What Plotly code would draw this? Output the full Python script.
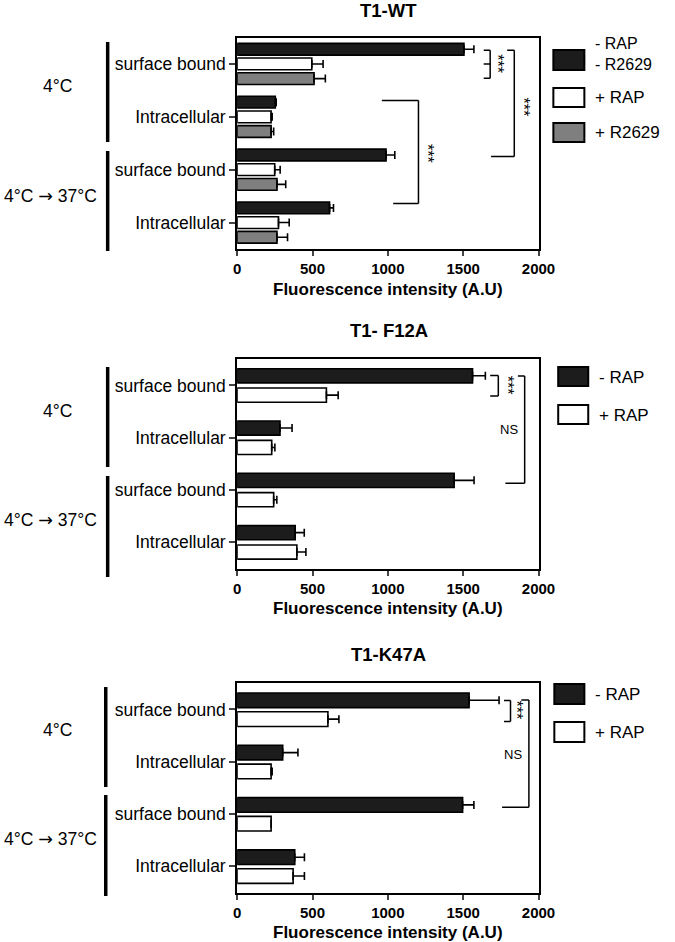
import plotly.graph_objects as go

W, H = 675, 942
FONT = "Liberation Sans, Arial, sans-serif"

# ---------------- data ----------------
group_labels = ["surface bound", "Intracellular", "surface bound", "Intracellular"]
group_pos = [0, 1, 2, 3]
x_ticks = [0, 500, 1000, 1500, 2000]

titles = ["T1-WT", "T1- F12A", "T1-K47A"]
axis_title = "Fluorescence intensity (A.U)"

# Panel 1 (T1-WT)
wt_minus_rap = [1505, 253, 988, 613]
wt_minus_rap_err = [66, 6, 58, 26]
wt_plus_rap = [495, 225, 249, 274]
wt_plus_rap_err = [75, 7, 36, 71]
wt_plus_r2629 = [510, 225, 264, 264]
wt_plus_r2629_err = [75, 17, 58, 70]

# Panel 2 (T1- F12A)
f12a_minus_rap = [1562, 284, 1440, 385]
f12a_minus_rap_err = [85, 80, 132, 60]
f12a_plus_rap = [592, 229, 242, 396]
f12a_plus_rap_err = [78, 21, 21, 60]

# Panel 3 (T1-K47A)
k47a_minus_rap = [1539, 302, 1496, 382]
k47a_minus_rap_err = [199, 101, 75, 64]
k47a_plus_rap = [602, 225, 225, 371]
k47a_plus_rap_err = [73, 7, 0, 75]

BLACK = "#1c1c1c"
GRAY = "#7f7f7f"
WHITE = "#ffffff"

# ---------------- layout geometry (pixels) ----------------
X0, X1 = 240.7, 551.7
panels = [  # top, bottom of plot area
    (37.5, 249.0),
    (359.3, 568.5),
    (683.3, 892.5),
]


def px(x):
    return x / W


def py(y):
    return 1 - y / H


fig = go.Figure()


def add_bar(vals, errs, color, axis, offset, width):
    fig.add_trace(go.Bar(
        x=vals, y=group_pos, orientation="h",
        xaxis="x" + axis, yaxis="y" + axis,
        offset=offset, width=width,
        marker=dict(color=color, line=dict(color="black", width=1.6)),
        error_x=dict(type="data", array=errs, arrayminus=[0] * len(errs),
                     symmetric=False, color="black", thickness=1.6, width=4),
        showlegend=False, hoverinfo="x",
    ))


# panel 1: 3 bars per group
w1 = 0.222
add_bar(wt_minus_rap, wt_minus_rap_err, BLACK, "", -0.277 - w1 / 2, w1)
add_bar(wt_plus_rap, wt_plus_rap_err, WHITE, "", -w1 / 2, w1)
add_bar(wt_plus_r2629, wt_plus_r2629_err, GRAY, "", 0.277 - w1 / 2, w1)
# panel 2
w2 = 0.27
add_bar(f12a_minus_rap, f12a_minus_rap_err, BLACK, "2", -0.185 - w2 / 2, w2)
add_bar(f12a_plus_rap, f12a_plus_rap_err, WHITE, "2", 0.185 - w2 / 2, w2)
# panel 3
w3 = 0.28
add_bar(k47a_minus_rap, k47a_minus_rap_err, BLACK, "3", -0.175 - w3 / 2, w3)
add_bar(k47a_plus_rap, k47a_plus_rap_err, WHITE, "3", 0.185 - w3 / 2, w3)

layout = dict(
    width=W, height=H,
    margin=dict(l=0, r=0, t=0, b=0),
    paper_bgcolor="white", plot_bgcolor="white",
    barmode="overlay",
    font=dict(family=FONT, color="black"),
    showlegend=False,
)

axis_names = ["", "2", "3"]
for i, (top, bot) in enumerate(panels):
    n = axis_names[i]
    layout["xaxis" + n] = dict(
        domain=[px(X0), px(X1)], anchor="y" + n, range=[0, 2000],
        tickvals=x_ticks, ticks="outside", ticklen=5, tickwidth=1.6,
        tickfont=dict(size=15, family=FONT, weight="bold"),
        showline=True, linewidth=2, linecolor="black", mirror=True,
        showgrid=False, zeroline=False,
    )
    layout["yaxis" + n] = dict(
        domain=[py(bot), py(top)], anchor="x" + n, range=[3.5, -0.5],
        tickvals=group_pos, ticktext=group_labels,
        ticks="outside", ticklen=6, tickwidth=1.6,
        tickfont=dict(size=17.5, family=FONT),
        showline=True, linewidth=2, linecolor="black", mirror=True,
        showgrid=False, zeroline=False,
    )

fig.update_layout(**layout)

annotations = []
shapes = []

# titles and axis titles
for i, (top, bot) in enumerate(panels):
    annotations.append(dict(x=px(397), y=py(max(top - 29, 11)), xref="paper", yref="paper",
                            text="<b>%s</b>" % titles[i], showarrow=False,
                            font=dict(size=18.5, family=FONT), xanchor="center", yanchor="middle"))
    annotations.append(dict(x=px(396), y=py(bot + 40), xref="paper", yref="paper",
                            text="<b>%s</b>" % axis_title, showarrow=False,
                            font=dict(size=17, family=FONT), xanchor="center", yanchor="middle"))

# left temperature groups
temp_groups = [
    # (label1 y, label2 y, bar x, bar1 y0,y1, bar2 y0,y1)
    (85.7, 196, 107, 42, 142, 151, 251),
    (411, 520, 107, 367, 467, 476, 577),
    (730, 839, 105, 687, 787, 795, 896),
]
ARROW_LABEL = '4°C <span style="font-family:DejaVu Sans">→</span> 37°C'
for (ly1, ly2, bx, a0, a1, b0, b1) in temp_groups:
    annotations.append(dict(x=px(55), y=py(ly1), xref="paper", yref="paper", text="4°C",
                            showarrow=False, font=dict(size=17.5, family=FONT),
                            xanchor="center", yanchor="middle"))
    annotations.append(dict(x=px(98.5), y=py(ly2), xref="paper", yref="paper",
                            text=ARROW_LABEL, showarrow=False,
                            font=dict(size=17.5, family=FONT),
                            xanchor="right", yanchor="middle"))
    for (s0, s1) in [(a0, a1), (b0, b1)]:
        shapes.append(dict(type="line", xref="paper", yref="paper",
                           x0=px(bx), x1=px(bx), y0=py(s0), y1=py(s1),
                           line=dict(color="black", width=3.5)))

# legends
legends = [
    [(567, 599, 50, 70, BLACK, "- RAP<br>- R2629", 54.2),
     (567, 599, 88, 107, WHITE, "+ RAP", 97.3),
     (567, 599, 123, 142, GRAY, "+ R2629", 132.7)],
    [(572, 603, 367, 386, BLACK, "- RAP", 377),
     (572, 603, 405, 424, WHITE, "+ RAP", 415)],
    [(568, 599, 684, 704, BLACK, "- RAP", 694),
     (568, 599, 722, 742, WHITE, "+ RAP", 732)],
]
for leg in legends:
    for (lx0, lx1, ly0, ly1, col, text, ty) in leg:
        shapes.append(dict(type="rect", xref="paper", yref="paper",
                           x0=px(lx0), x1=px(lx1), y0=py(ly0), y1=py(ly1),
                           fillcolor=col, line=dict(color="black", width=2)))
        annotations.append(dict(x=px(lx1 + 9), y=py(ty), xref="paper", yref="paper",
                                text=text, showarrow=False, align="left",
                                font=dict(size=17 if "<br>" not in text else 16, family=FONT),
                                xanchor="left", yanchor="middle"))


def bracket(axis, xl, xv, y0, y1, mid=None, xl_bottom=None):
    xr = "x" + axis
    yr = "y" + axis
    lw = dict(color="black", width=1.5)
    shapes.append(dict(type="line", xref=xr, yref=yr, x0=xv, x1=xv, y0=y0, y1=y1, line=lw))
    shapes.append(dict(type="line", xref=xr, yref=yr, x0=xl, x1=xv, y0=y0, y1=y0, line=lw))
    shapes.append(dict(type="line", xref=xr, yref=yr,
                       x0=xl if xl_bottom is None else xl_bottom, x1=xv, y0=y1, y1=y1, line=lw))
    if mid is not None:
        shapes.append(dict(type="line", xref=xr, yref=yr, x0=xl, x1=xv, y0=mid, y1=mid, line=lw))


def stars(axis, x, y):
    annotations.append(dict(x=x, y=y, xref="x" + axis, yref="y" + axis, text="***",
                            textangle=90, showarrow=False,
                            font=dict(size=16, family=FONT, color="black"),
                            xanchor="center", yanchor="middle"))


def ns(axis, x, y):
    annotations.append(dict(x=x, y=y, xref="x" + axis, yref="y" + axis, text="NS",
                            showarrow=False, font=dict(size=13, family=FONT),
                            xanchor="center", yanchor="middle"))


# panel 1 significance
bracket("", 1636, 1679, -0.26, 0.27, mid=0.0)
stars("", 1722, 0.0)
bracket("", 1792, 1839, -0.26, 1.75, xl_bottom=1685)
stars("", 1899, 0.81)
bracket("", 960, 1203, 0.69, 2.64, xl_bottom=1035)
stars("", 1262, 1.69)

# panel 2
bracket("2", 1679, 1733, -0.19, 0.2)
stars("2", 1795, 0.0)
bracket("2", 1863, 1908, -0.18, 1.87, xl_bottom=1780)
ns("2", 1807, 0.84)

# panel 3
bracket("3", 1771, 1814, -0.17, 0.23)
stars("3", 1857, 0.02)
bracket("3", 1886, 1936, -0.18, 1.87, xl_bottom=1758)
ns("3", 1833, 0.87)

fig.update_layout(annotations=annotations, shapes=shapes)
fig.write_html("out.html",
               config={"displayModeBar": False},
               post_script="document.body.style.margin='0px';"
                           "document.body.style.overflow='hidden';")
